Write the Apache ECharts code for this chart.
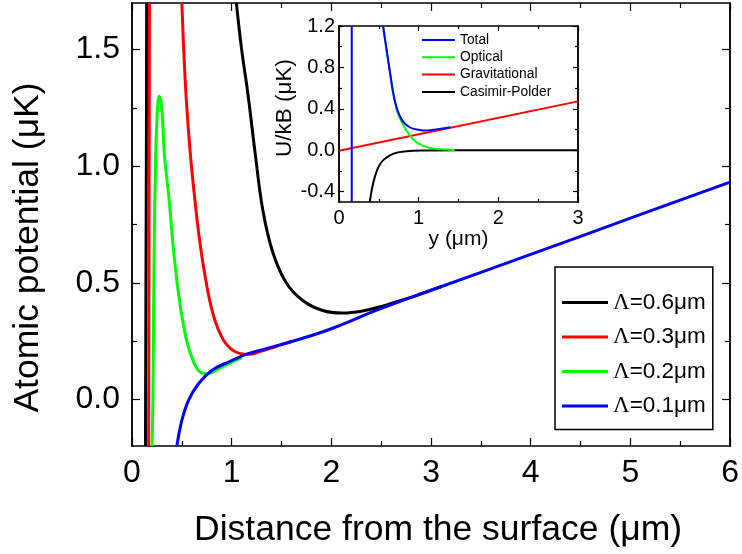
<!DOCTYPE html>
<html>
<head>
<meta charset="utf-8">
<script src="https://cdn.jsdelivr.net/npm/echarts@6/dist/echarts.min.js"></script>
<style>
  html, body { margin: 0; padding: 0; background: #fff; }
  #chart { width: 742px; height: 554px; }
</style>
</head>
<body>
<div id="chart"></div>
<script>
// main panel: potential for four values of Lambda, [distance um, U uK]
// null breaks the line where the curve leaves the top of the plot
var lam06 = [[0.135, -0.2], [0.14, 0.5], [0.145, 1.2], [0.147, 1.7], [0.5, null],
    [1.047, 1.7], [1.10, 1.50], [1.163, 1.31], [1.24, 1.04], [1.313, 0.81], [1.413, 0.63],
    [1.547, 0.50], [1.713, 0.424], [1.913, 0.381], [2.113, 0.37], [2.313, 0.379],
    [2.513, 0.400], [2.68, 0.422], [2.85, 0.445], [3.0, 0.468], [3.1, 0.483]];
var lam03 = [[0.167, -0.2], [0.17, 0.5], [0.173, 1.2], [0.175, 1.7], [0.3, null],
    [0.5, 1.7], [0.523, 1.46], [0.55, 1.25], [0.59, 1.03], [0.625, 0.88], [0.667, 0.72],
    [0.733, 0.53], [0.817, 0.36], [0.917, 0.255], [1.033, 0.205], [1.167, 0.193],
    [1.3, 0.207], [1.45, 0.228], [1.6, 0.248]];
var lam02 = [[0.2, -0.2], [0.21, 0.0], [0.22, 0.567], [0.233, 0.95], [0.25, 1.2],
    [0.273, 1.30], [0.30, 1.239], [0.325, 1.05], [0.373, 0.853], [0.417, 0.639],
    [0.467, 0.453], [0.533, 0.281], [0.60, 0.181], [0.683, 0.117], [0.767, 0.11],
    [0.867, 0.131], [1.0, 0.16], [1.1, 0.178]];
var lam01 = [[0.45, -0.2], [0.5, -0.09], [0.567, -0.004], [0.667, 0.067], [0.8, 0.124],
    [0.967, 0.16], [1.167, 0.196], [1.3, 0.212], [1.68, 0.258], [2.0, 0.303],
    [2.5, 0.39], [3.0, 0.468], [4.0, 0.622], [5.0, 0.777], [6.0, 0.932]];

// inset: contributions to the potential, [y um, U/kB uK]
var total = [[0.16, -0.5], [0.16, 1.2], [0.3, null],
    [0.553, 1.2], [0.637, 0.768], [0.70, 0.479], [0.784, 0.30], [0.888, 0.222],
    [1.014, 0.196], [1.098, 0.19], [1.181, 0.198], [1.3, 0.21], [1.4, 0.222]];
var optical = [[0.553, 1.2], [0.637, 0.768], [0.70, 0.479], [0.741, 0.35], [0.847, 0.19],
    [0.972, 0.077], [1.139, 0.023], [1.349, 0.007], [1.454, 0.0]];
var gravitational = [[0, -0.005], [3, 0.472]];
var casimir = [[0.386, -0.5], [0.449, -0.26], [0.532, -0.116], [0.678, -0.035],
    [0.847, -0.01], [1.098, -0.003], [1.5, 0], [3, 0]];

var mainYLabels = [0, 0.5, 1.0, 1.5];
var mainYMinor = [0.25, 0.75, 1.25];
var insetYLabels = [-0.4, 0, 0.4, 0.8, 1.2];
var insetYMinor = [-0.2, 0.2, 0.6, 1.0];

var font = 'Liberation Sans, Arial, sans-serif';
var axisLine = { onZero: false, lineStyle: { color: '#000', width: 1.5 } };

// one x axis (bottom or top) of a panel
function xAx(grid, pos, max, big) {
    return {
        type: 'value', gridIndex: grid, position: pos, min: 0, max: max, interval: 1,
        axisLine: axisLine,
        axisTick: { inside: true, length: big ? 8 : 5, lineStyle: { color: '#000', width: 1.2 } },
        minorTick: { show: true, splitNumber: 2, length: big ? 5 : 3, lineStyle: { color: '#000', width: 1.2 } },
        axisLabel: {
            show: pos === 'bottom', color: '#000', fontFamily: font,
            fontSize: big ? 32 : 20, margin: big ? 11 : 6
        },
        splitLine: { show: false }, minorSplitLine: { show: false }
    };
}

// y axis carrying ticks at given values; labels only when asked
function yAx(grid, pos, min, max, values, len, labels) {
    return {
        type: 'value', gridIndex: grid, position: pos, min: min, max: max,
        axisLine: axisLine,
        axisTick: { inside: true, length: len, customValues: values, lineStyle: { color: '#000', width: 1.2 } },
        axisLabel: {
            show: !!labels, customValues: values, color: '#000', fontFamily: font,
            fontSize: grid === 0 ? 32 : 20, margin: grid === 0 ? 12 : 4,
            formatter: function (v) { return v.toFixed(1); }
        },
        splitLine: { show: false }
    };
}

var xAxes = [xAx(0, 'bottom', 6, true), xAx(0, 'top', 6, true), xAx(1, 'bottom', 3, false), xAx(1, 'top', 3, false)];
xAxes[0].name = 'Distance from the surface (\u03bcm)';
xAxes[0].nameLocation = 'middle';
xAxes[0].nameGap = 66;
xAxes[0].nameTextStyle = { fontFamily: font, fontSize: 35.5, color: '#000', padding: [0, 0, 0, 14] };
xAxes[2].name = 'y (\u03bcm)';
xAxes[2].nameLocation = 'middle';
xAxes[2].nameGap = 27;
xAxes[2].nameTextStyle = { fontFamily: font, fontSize: 21, color: '#000' };

var yAxes = [
    yAx(0, 'left', -0.2, 1.7, mainYLabels, 8, true),
    yAx(0, 'left', -0.2, 1.7, mainYMinor, 5),
    yAx(0, 'right', -0.2, 1.7, mainYLabels, 8),
    yAx(0, 'right', -0.2, 1.7, mainYMinor, 5),
    yAx(1, 'left', -0.5, 1.2, insetYLabels, 5, true),
    yAx(1, 'left', -0.5, 1.2, insetYMinor, 3),
    yAx(1, 'right', -0.5, 1.2, insetYLabels, 5),
    yAx(1, 'right', -0.5, 1.2, insetYMinor, 3)
];
yAxes[0].name = 'Atomic potential (\u03bcK)';
yAxes[0].nameLocation = 'middle';
yAxes[0].nameGap = 86;
yAxes[0].nameTextStyle = { fontFamily: font, fontSize: 35.5, color: '#000', padding: [0, 46, 0, 0] };
yAxes[4].name = 'U/kB (\u03bcK)';
yAxes[4].nameLocation = 'middle';
yAxes[4].nameGap = 43;
yAxes[4].nameTextStyle = { fontFamily: font, fontSize: 22.5, color: '#000', padding: [0, 0, 0, 12] };

function line(name, data, color, inset) {
    return {
        name: name, type: 'line', data: data,
        xAxisIndex: inset ? 2 : 0, yAxisIndex: inset ? 4 : 0,
        showSymbol: false, smooth: 0.4, connectNulls: false,
        lineStyle: { color: color, width: inset ? 2 : 3 },
        itemStyle: { color: color }
    };
}

var myChart = echarts.init(document.getElementById('chart'));
var option = {
    animation: false,
    backgroundColor: '#fff',
    grid: [
        { left: 132, top: 3, width: 600, height: 443 },
        { left: 339, top: 26, width: 239, height: 176 }
    ],
    xAxis: xAxes,
    yAxis: yAxes,
    legend: [
        {
            data: ['\u039b=0.6\u03bcm', '\u039b=0.3\u03bcm', '\u039b=0.2\u03bcm', '\u039b=0.1\u03bcm'],
            orient: 'vertical', left: 555, top: 267,
            padding: [24, 7, 12, 7], itemGap: 11.5,
            itemWidth: 46, itemHeight: 3, icon: 'rect',
            borderColor: '#000', borderWidth: 1.5,
            formatter: function (name) { return name.replace('\u039b', '{s|\u039b}'); },
            textStyle: {
                fontFamily: font, fontSize: 22.5, color: '#000', lineHeight: 22,
                rich: { s: { fontFamily: 'Liberation Serif, serif', fontSize: 23, color: '#000' } }
            }
        },
        {
            data: ['Total', 'Optical', 'Gravitational', 'Casimir-Polder'],
            orient: 'vertical', left: 422, top: 33, padding: 0, itemGap: 3.3,
            itemWidth: 33, itemHeight: 2, icon: 'rect',
            textStyle: { fontFamily: font, fontSize: 13.8, color: '#000', lineHeight: 14 }
        }
    ],
    series: [
        line('\u039b=0.6\u03bcm', lam06, '#000000'),
        line('\u039b=0.3\u03bcm', lam03, '#ff0000'),
        line('\u039b=0.2\u03bcm', lam02, '#00ff00'),
        line('\u039b=0.1\u03bcm', lam01, '#0000ff'),
        line('Casimir-Polder', casimir, '#000000', true),
        line('Gravitational', gravitational, '#ff0000', true),
        line('Optical', optical, '#00ff00', true),
        line('Total', total, '#0000ff', true)
    ]
};
myChart.setOption(option);
</script>
</body>
</html>
